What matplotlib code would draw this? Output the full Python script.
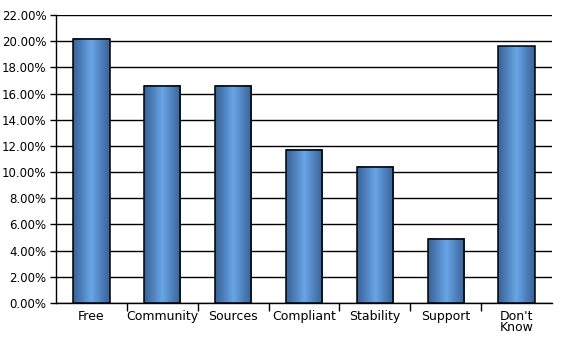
import matplotlib
matplotlib.use('Agg')
import matplotlib.pyplot as plt
import matplotlib.patches as patches
from matplotlib.colors import LinearSegmentedColormap
import numpy as np

categories = ['Free', 'Community', 'Sources', 'Compliant', 'Stability', 'Support', "Don't\nKnow"]
shares = [20.2, 16.6, 16.6, 11.7, 10.4, 4.9, 19.6]
yticks = [0, 2, 4, 6, 8, 10, 12, 14, 16, 18, 20, 22]

plt.rcParams['font.family'] = ['DejaVu Sans']

fig = plt.figure(figsize=(5.67, 3.43), dpi=100)
ax = fig.add_axes([0.0988, 0.1166, 0.8747, 0.8397])

# horizontal cylinder-style shading for the bars
shade = LinearSegmentedColormap.from_list(
    'cyl', ['#3a6396', '#4f82bf', '#6aa6e6', '#4f82bf', '#3a6396'])
grad = np.linspace(0, 1, 64).reshape(1, -1)

bar_w = 0.51
for i, v in enumerate(shares):
    x0 = i - bar_w / 2
    ax.imshow(grad, cmap=shade, aspect='auto', interpolation='bicubic',
              extent=(x0, x0 + bar_w, 0, v), zorder=3)
    ax.add_patch(patches.Rectangle((x0, 0), bar_w, v, fill=False,
                                   edgecolor='black', linewidth=1.1, zorder=4))

ax.set_xlim(-0.5, len(categories) - 0.5)
ax.set_ylim(0, 22)
ax.set_yticks(yticks)
ax.set_yticklabels([f'{t:.2f}%' for t in yticks], fontsize=8.5)
ax.yaxis.grid(True, color='black', linewidth=1.0, zorder=0)
ax.set_axisbelow(True)

# category boundaries carry the ticks, labels sit centred under the bars
ax.set_xticks(np.arange(0.5, len(categories) - 0.5, 1.0))
ax.set_xticklabels([])
ax.tick_params(axis='x', which='major', length=6, width=1, color='black')
ax.set_xticks(np.arange(len(categories)), minor=True)
ax.set_xticklabels(categories, minor=True, fontsize=9, linespacing=0.85,
                   verticalalignment='top', multialignment='left')
ax.tick_params(axis='x', which='minor', length=0, pad=5)
ax.tick_params(axis='y', length=4, width=1, pad=3)

for side in ['top', 'right']:
    ax.spines[side].set_visible(False)
ax.spines['left'].set_linewidth(1.0)
ax.spines['bottom'].set_linewidth(1.0)

fig.savefig('out.png', dpi=100)
